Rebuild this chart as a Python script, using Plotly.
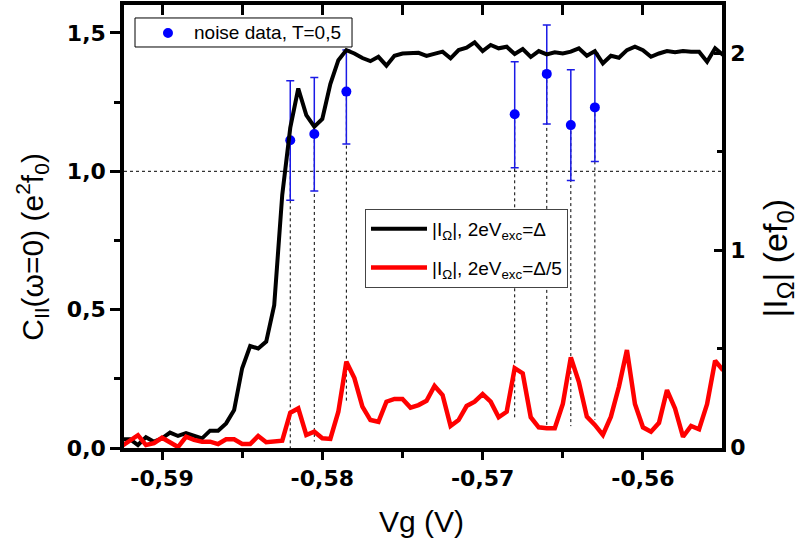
import plotly.graph_objects as go

# ---------------- data ----------------
vg = [-0.5925, -0.592, -0.5915, -0.591, -0.5905, -0.59, -0.5895, -0.589, -0.5885, -0.588,
      -0.5875, -0.587, -0.5865, -0.586, -0.5855, -0.585, -0.5845, -0.584, -0.5835, -0.583,
      -0.5825, -0.582, -0.5815, -0.581, -0.5805, -0.58, -0.5795, -0.579, -0.5785, -0.578,
      -0.5775, -0.577, -0.5765, -0.576, -0.5755, -0.575, -0.5745, -0.574, -0.5735, -0.573,
      -0.5725, -0.572, -0.5715, -0.571, -0.5705, -0.57, -0.5695, -0.569, -0.5685, -0.568,
      -0.5675, -0.567, -0.5665, -0.566, -0.5655, -0.565, -0.5645, -0.564, -0.5635, -0.563,
      -0.5625, -0.562, -0.5615, -0.561, -0.5605, -0.56, -0.5595, -0.559, -0.5585, -0.558,
      -0.5575, -0.557, -0.5565, -0.556, -0.5555, -0.555]

i_full = [0.04, 0.04, 0.01, 0.05, 0.027, 0.044, 0.073, 0.056, 0.07, 0.056,
          0.044, 0.083, 0.083, 0.12, 0.188, 0.40, 0.513, 0.50, 0.535, 0.72,
          1.28, 1.62, 1.82, 1.685, 1.626, 1.665, 1.843, 1.964, 2.015, 1.998,
          1.975, 1.959, 1.981, 1.936, 1.986, 1.998, 2.0, 2.001, 1.986, 1.998,
          2.007, 1.973, 2.015, 2.027, 2.054, 2.01, 2.041, 2.024, 2.032, 1.995,
          2.02, 1.98, 2.01, 1.993, 2.004, 1.998, 2.007, 2.024, 1.986, 2.01,
          1.948, 1.986, 1.976, 2.015, 2.032, 2.015, 1.981, 1.998, 2.01, 2.004,
          2.01, 2.007, 2.007, 1.956, 2.024, 1.99]

i_fifth = [0.005, 0.035, 0.06, 0.01, 0.02, 0.047, 0.022, 0.0, 0.052, 0.036,
           0.027, 0.027, 0.015, 0.039, 0.039, 0.015, 0.015, 0.056, 0.024, 0.027,
           0.032, 0.174, 0.196, 0.061, 0.078, 0.044, 0.041, 0.179, 0.433, 0.35,
           0.205, 0.137, 0.128, 0.23, 0.244, 0.244, 0.2, 0.213, 0.235, 0.31,
           0.264, 0.107, 0.137, 0.208, 0.23, 0.269, 0.23, 0.151, 0.179, 0.40,
           0.374, 0.151, 0.10, 0.095, 0.095, 0.218, 0.455, 0.331, 0.154, 0.112,
           0.061, 0.154, 0.306, 0.492, 0.218, 0.10, 0.078, 0.123, 0.289, 0.196,
           0.052, 0.107, 0.09, 0.218, 0.438, 0.39]

noise_vg = [-0.582, -0.5805, -0.5785, -0.568, -0.566, -0.5645, -0.563]
noise_c = [1.112, 1.135, 1.288, 1.206, 1.352, 1.167, 1.231]
noise_err_plus = [0.215, 0.204, 0.15, 0.19, 0.177, 0.2, 0.195]
noise_err_minus = [0.217, 0.206, 0.189, 0.193, 0.181, 0.2, 0.196]
drop_end = [0.0, 0.023, 0.167, 0.111, 0.071, 0.079, 0.101]

x_tickvals = [-0.59, -0.58, -0.57, -0.56]
x_ticktext = ["-0,59", "-0,58", "-0,57", "-0,56"]
yl_tickvals = [0.0, 0.5, 1.0, 1.5]
yl_ticktext = ["0,0", "0,5", "1,0", "1,5"]
yr_tickvals = [0, 1, 2]
yr_ticktext = ["0", "1", "2"]

noise_label = "noise data, T=0,5"

# ---------------- figure ----------------
TXT = "Liberation Sans, Arial, sans-serif"
TICKFONT = dict(family="DejaVu Sans", size=22, color="black", weight="bold")
BLUE = "#0000FF"

fig = go.Figure()

# dotted drop lines from each noise point
dx, dy = [], []
for xv, yv, ye in zip(noise_vg, noise_c, drop_end):
    dx += [xv, xv, None]
    dy += [yv, ye, None]
fig.add_trace(go.Scatter(x=dx, y=dy, mode="lines", line=dict(color="black", width=1, dash="dot"),
                         showlegend=False, hoverinfo="skip", xaxis="x", yaxis="y"))

fig.add_trace(go.Scatter(
    x=noise_vg, y=noise_c, mode="markers", name=noise_label,
    marker=dict(color=BLUE, size=10),
    error_y=dict(type="data", symmetric=False, array=noise_err_plus, arrayminus=noise_err_minus,
                 color="#1a1ae6", thickness=1.5, width=4),
    xaxis="x", yaxis="y", showlegend=False))

fig.add_trace(go.Scatter(
    x=vg, y=i_full, mode="lines", name="|I<sub>Ω</sub>|, 2eV<sub>exc</sub>=Δ",
    line=dict(color="black", width=4), xaxis="x", yaxis="y2", legend="legend2",
    legendgroup="a"))
fig.add_trace(go.Scatter(
    x=vg, y=i_fifth, mode="lines", name="|I<sub>Ω</sub>|, 2eV<sub>exc</sub>=Δ/5",
    line=dict(color="#FF0000", width=4.5), xaxis="x", yaxis="y2", legend="legend2",
    legendgroup="b"))

# dummy trace to carry the top axis
fig.add_trace(go.Scatter(x=[vg[0]], y=[None], xaxis="x2", yaxis="y", showlegend=False,
                         hoverinfo="skip"))

xr = [-0.59237, -0.55507]
fig.update_layout(
    width=800, height=549,
    margin=dict(l=124, r=78, t=5, b=101),
    paper_bgcolor="white", plot_bgcolor="white",
    font=dict(family=TXT, color="black"),
    showlegend=True,
    xaxis=dict(range=xr, tickvals=x_tickvals, ticktext=x_ticktext, ticks="outside",
               ticklen=8, tickwidth=3, tickcolor="black", tickfont=TICKFONT,
               showline=True, linewidth=3.5, linecolor="black", showgrid=False, zeroline=False,
               minor=dict(dtick=0.005, tick0=-0.59, ticks="outside", ticklen=6, tickwidth=3,
                          tickcolor="black", showgrid=False)),
    xaxis2=dict(range=xr, overlaying="x", side="top", anchor="y", tickvals=x_tickvals,
                ticks="inside", ticklen=10, tickwidth=3, tickcolor="black",
                showticklabels=False, showline=True, linewidth=3.5, linecolor="black",
                showgrid=False, zeroline=False,
                minor=dict(dtick=0.005, tick0=-0.59, ticks="inside", ticklen=10, tickwidth=3,
                           tickcolor="black", showgrid=False)),
    yaxis=dict(range=[0, 1.601], tickvals=yl_tickvals, ticktext=yl_ticktext, ticks="outside",
               ticklen=10, tickwidth=3, tickcolor="black", tickfont=TICKFONT,
               showline=True, linewidth=3.5, linecolor="black", showgrid=False, zeroline=False,
               minor=dict(dtick=0.25, tick0=0, ticks="outside", ticklen=6, tickwidth=3,
                          tickcolor="black", showgrid=False)),
    yaxis2=dict(range=[-0.005, 2.244], overlaying="y", side="right", anchor="x",
                tickvals=yr_tickvals, ticktext=yr_ticktext, ticks="inside",
                ticklen=8, tickwidth=3, tickcolor="black", tickfont=TICKFONT,
                showline=True, linewidth=3.5, linecolor="black", showgrid=False, zeroline=False,
                minor=dict(dtick=0.5, tick0=0, ticks="inside", ticklen=5, tickwidth=3,
                           tickcolor="black", showgrid=False)),
    legend2=dict(x=0.403, y=0.5395, xanchor="left", yanchor="top", bgcolor="white",
                 bordercolor="#444444", borderwidth=1, itemwidth=56, tracegroupgap=11,
                 font=dict(family=TXT, size=19, color="black")),
    shapes=[
        dict(type="line", xref="paper", yref="y", x0=0, x1=1, y0=1.0, y1=1.0,
             line=dict(color="black", width=1, dash="dot"), layer="below"),
        # legend box for the noise data
        dict(type="rect", xref="paper", yref="paper", x0=0.0184, x1=0.3813, y0=0.9052, y1=0.9707,
             fillcolor="white", line=dict(color="black", width=1), layer="above"),
        dict(type="circle", xref="paper", yref="paper", x0=0.0652, x1=0.0819, y0=0.9255, y1=0.9481,
             fillcolor=BLUE, line=dict(color=BLUE, width=0), layer="above"),
    ],
    annotations=[
        dict(text=noise_label, xref="paper", yref="paper", x=0.1137, y=0.9368,
             xanchor="left", yanchor="middle", showarrow=False,
             font=dict(family=TXT, size=19, color="black")),
        dict(text="C<sub>II</sub>(ω=0) (e<sup>2</sup>f<sub>0</sub>)", textangle=-90,
             xref="paper", yref="paper", x=-0.154, y=0.454, xanchor="center", yanchor="middle",
             showarrow=False, font=dict(family=TXT, size=30, color="black")),
        dict(text="|I<sub>Ω</sub>| (ef<sub>0</sub>)", textangle=-90,
             xref="paper", yref="paper", x=1.093, y=0.429, xanchor="center", yanchor="middle",
             showarrow=False, font=dict(family=TXT, size=34, color="black")),
        dict(text="Vg (V)", xref="paper", yref="paper", x=0.497, y=-0.167,
             xanchor="center", yanchor="middle", showarrow=False,
             font=dict(family=TXT, size=30, color="black")),
    ],
)

fig.write_html("out.html", config={"displayModeBar": False},
               post_script="document.body.style.margin='0px';")
